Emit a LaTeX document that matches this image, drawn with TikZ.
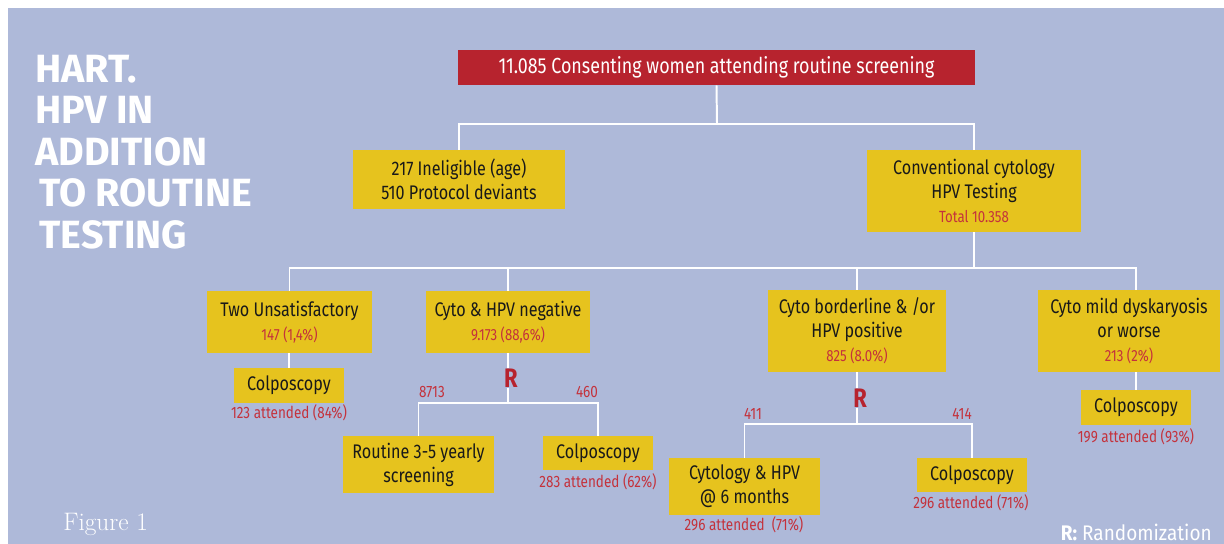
\documentclass[tikz,border=0pt]{standalone}
\usepackage{fontspec}
\setsansfont{Fira Sans}[FakeStretch=0.82]
\newfontfamily\headfont{Fira Sans}
\newfontfamily\legfont{Fira Sans}[FakeStretch=0.9]
\usepackage{xcolor}
\usepackage{tikz}
\definecolor{bgblue}{RGB}{174,185,217}
\definecolor{boxyellow}{RGB}{230,195,30}
\definecolor{topred}{RGB}{183,35,46}
\definecolor{numred}{RGB}{196,50,60}
\newcommand{\sub}[1]{{\color{numred}\fontsize{11.5}{17}\selectfont #1}}

\begin{document}
\begin{tikzpicture}[x=0.025cm,y=-0.025cm,
	box/.style 2 args={fill=boxyellow,minimum width=#1*0.025cm,minimum height=#2*0.025cm,
		inner sep=0pt,align=center,text=black!90,font=\sffamily\fontsize{14}{17}\selectfont},
	num/.style={text=numred,inner sep=0pt,font=\sffamily\fontsize{11.7}{13}\selectfont},
	rand/.style={text=topred,inner sep=0pt,font=\sffamily\bfseries\fontsize{19}{19}\selectfont},
	link/.style={draw=white,line width=1.4pt}]
	\useasboundingbox (0,0) rectangle (1224,544);
	\fill[bgblue] (8,8) rectangle (1224,544);
	% title
	\node (title) at(35,152)[anchor=west,align=left,inner sep=0pt,text=white,
		font=\headfont\bfseries\fontsize{28}{29.5}\selectfont]
		{HART.\\HPV IN\\ADDITION\\\hspace*{3pt}TO ROUTINE\\\hspace*{3pt}TESTING};
	% boxes
	\node (top) at(716.5,67.5)[box={517}{35},fill=topred,text=white,
		font=\sffamily\fontsize{15.5}{17}\selectfont]{11.085 Consenting women attending routine screening};
	\node (inel) at(459,179.5)[box={212}{59}]{217 Ineligible (age)\\510 Protocol deviants};
	\node (conv) at(974,191)[box={214}{82}]{Conventional cytology\\HPV Testing\\\sub{Total 10.358}};
	\node (unsat) at(289.5,322)[box={165}{62}]{Two Unsatisfactory\\\sub{147 (1,4\%)}};
	\node (neg) at(508,322)[box={164}{62}]{Cyto \& HPV negative\\\sub{9.173 (88,6\%)}};
	\node (border) at(857,331)[box={178}{82}]{Cyto borderline \& /or\\HPV positive\\\sub{825 (8.0\%)}};
	\node (mild) at(1129,331)[box={182}{82}]{Cyto mild dyskaryosis\\or worse\\\sub{213 (2\%)}};
	\node (colpoA) at(289,385.5)[box={110}{35}]{Colposcopy};
	\node (routine) at(418.5,464.5)[box={151}{57}]{Routine 3-5 yearly\\screening};
	\node (colpoB) at(598,453)[box={110}{34}]{Colposcopy};
	\node (sixm) at(744.5,486.5)[box={151}{57}]{Cytology \& HPV\\@ 6 months};
	\node (colpoC) at(972,475)[box={110}{34}]{Colposcopy};
	\node (colpoD) at(1136,407.5)[box={110}{35}]{Colposcopy};
	% randomization marks
	\node (rA) at(511,378)[rand]{R};
	\node (rB) at(860,398)[rand]{R};
	% joints
	\coordinate (jA) at(717,124);
	\coordinate (jB) at(974,268);
	\coordinate (jC) at(508,403);
	\coordinate (jD) at(857,424);
	% connectors
	\draw[link] (top.south) -- (jA);
	\draw[link] (inel.north) |- (jA) -| (conv.north);
	\draw[link] (conv.south) -- (jB);
	\draw[link] (unsat.north) |- (jB) -| (colpoD |- mild.north);
	\draw[link] (neg.north) |- (jB);
	\draw[link] (border.north) |- (jB);
	\draw[link] (unsat.south -| colpoA) -- (colpoA.north);
	\draw[link] (colpoD |- mild.south) -- (colpoD.north);
	\draw[link] (neg.south) -- (neg.south |- rA.north);
	\draw[link] (neg.south |- rA.south) -- (jC);
	\draw[link] (routine.north) |- (jC) -| (colpoB.north);
	\draw[link] (border.south) -- (border.south |- rB.north);
	\draw[link] (border.south |- rB.south) -- (jD);
	\draw[link] (sixm.north) |- (jD) -| (colpoC.north);
	% numbers
	\node (nA) at(432,392)[num]{8713};
	\node (nB) at(587,392)[num]{460};
	\node (nC) at(753,414)[num]{411};
	\node (nD) at(962,414)[num]{414};
	\node (aA) at(289,413)[num]{123 attended (84\%)};
	\node (aB) at(598,482)[num]{283 attended (62\%)};
	\node (aC) at(744,525)[num]{296 attended\ \ (71\%)};
	\node (aD) at(971,503)[num]{296 attended (71\%)};
	\node (aE) at(1136,437)[num]{199 attended (93\%)};
	% footer
	\node (fig) at(63,524)[anchor=west,inner sep=0pt,text=white,
		font=\rmfamily\fontsize{18}{18}\selectfont]{Figure 1};
	\node (legend) at(1212,532)[anchor=east,inner sep=0pt,text=white,
		font=\legfont\fontsize{15}{15}\selectfont]{\textbf{R:} Randomization};
\end{tikzpicture}
\end{document}
